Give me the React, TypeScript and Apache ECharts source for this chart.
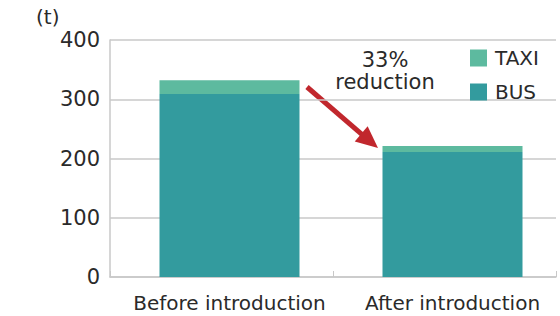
import React, { useEffect, useRef } from "react";
import * as echarts from "echarts";

const categories = ["Before introduction", "After introduction"];
const busValues = [309, 211];
const taxiValues = [23, 10];
const yTicks = [0, 100, 200, 300, 400];
const unitLabel = "(t)";
const noteText = "33%\nreduction";

const FONT = "DejaVu Sans";
const TXT = "#2a2a2a";

export default function App() {
  const ref = useRef<HTMLDivElement>(null);
  useEffect(() => {
    document.body.style.margin = "0";
    const chart = echarts.init(ref.current!, undefined, { renderer: "svg" });
    const tip = [378, 148];
    const dir = [0.764, 0.645];
    const len = 22;
    const hw = 10;
    const base = [tip[0] - dir[0] * len, tip[1] - dir[1] * len];
    const perp = [-dir[1], dir[0]];
    chart.setOption({
      animation: false,
      grid: { left: 110, right: 4, top: 40, bottom: 39 },
      legend: {
        orient: "vertical",
        left: 465,
        top: 43,
        icon: "rect",
        itemWidth: 17,
        itemHeight: 17,
        itemGap: 14,
        data: ["TAXI", "BUS"],
        textStyle: { fontFamily: FONT, fontSize: 20, color: TXT, padding: [0, 0, 0, 3] },
      },
      xAxis: {
        type: "category",
        data: categories,
        axisLine: { lineStyle: { color: "#c8c8c8", width: 1.5 } },
        axisTick: { show: true, inside: true, length: 6, lineStyle: { color: "#c8c8c8" } },
        axisLabel: {
          interval: 0,
          fontFamily: FONT,
          fontSize: 20,
          color: TXT,
          margin: 16,
          padding: [0, 0, 0, 16],
        },
      },
      yAxis: {
        type: "value",
        min: yTicks[0],
        max: yTicks[yTicks.length - 1],
        interval: 100,
        axisLine: { show: true, lineStyle: { color: "#c8c8c8", width: 1.5 } },
        axisTick: { show: false },
        splitLine: { lineStyle: { color: "#c8c8c8", width: 1.5 } },
        axisLabel: { fontFamily: FONT, fontSize: 21, color: TXT, margin: 10 },
      },
      series: [
        {
          name: "spacer",
          type: "bar",
          stack: "spacer",
          data: [],
          barWidth: 16,
          barGap: "0%",
        },
        {
          name: "BUS",
          type: "bar",
          stack: "t",
          data: busValues,
          barWidth: 140,
          barGap: "0%",
          itemStyle: { color: "#339b9e" },
        },
        {
          name: "TAXI",
          type: "bar",
          stack: "t",
          data: taxiValues,
          barWidth: 140,
          barGap: "0%",
          itemStyle: { color: "#5dba9f" },
        },
      ],
      graphic: [
        {
          type: "text",
          x: 36,
          y: 7,
          style: { text: unitLabel, font: `20px "${FONT}"`, fill: TXT },
        },
        {
          type: "text",
          x: 385,
          y: 49,
          style: {
            text: noteText,
            font: `21px "${FONT}"`,
            fill: TXT,
            align: "center",
            verticalAlign: "top",
            lineHeight: 22,
          },
        },
        {
          type: "line",
          shape: { x1: 307, y1: 87, x2: base[0] + dir[0] * 2, y2: base[1] + dir[1] * 2 },
          style: { stroke: "#c1272d", lineWidth: 5 },
        },
        {
          type: "polygon",
          shape: {
            points: [
              tip,
              [base[0] + perp[0] * hw, base[1] + perp[1] * hw],
              [base[0] - perp[0] * hw, base[1] - perp[1] * hw],
            ],
          },
          style: { fill: "#c1272d" },
        },
      ],
    });
    return () => chart.dispose();
  }, []);
  return <div ref={ref} style={{ width: 560, height: 316 }} />;
}
